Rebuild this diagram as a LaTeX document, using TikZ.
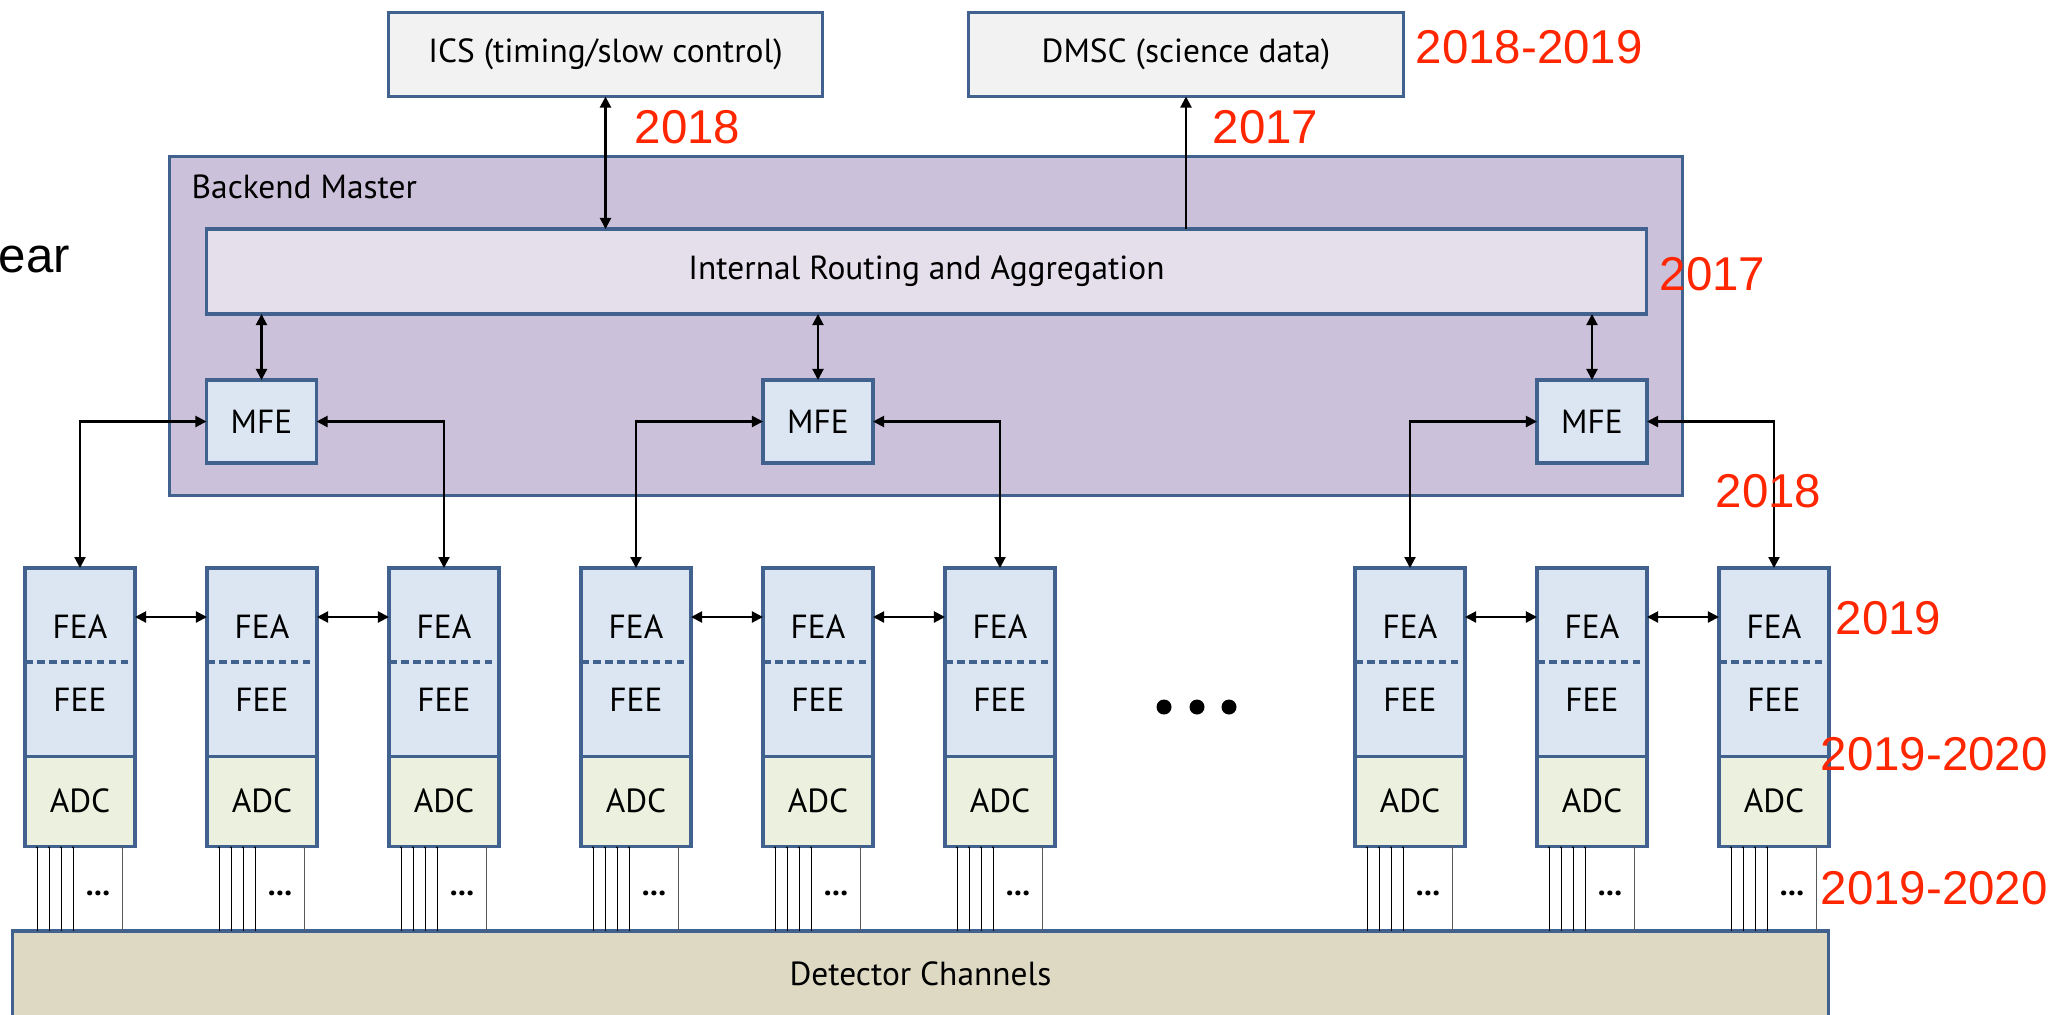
\documentclass[tikz,border=0pt]{standalone}
\usepackage{fontspec}
\setmainfont{PT Sans}
\newfontfamily\yearfont{Liberation Sans}
\usetikzlibrary{arrows.meta}
\definecolor{boxline}{HTML}{41628F}
\definecolor{icsfill}{HTML}{F2F2F2}
\definecolor{masterfill}{HTML}{CCC1DA}
\definecolor{routefill}{HTML}{E5DFEC}
\definecolor{feblue}{HTML}{DCE6F2}
\definecolor{adcfill}{HTML}{EBF1DE}
\definecolor{detfill}{HTML}{DDD9C3}
\definecolor{yearred}{HTML}{FF2600}

\begin{document}
\begin{tikzpicture}[x=0.01cm,y=-0.01cm,
    >={Triangle[length=0.11cm,width=0.11cm]},
    box/.style={draw=boxline,line width=0.9pt,inner sep=0pt,outer sep=0pt,
      font=\fontsize{9.5}{11}\selectfont},
    topbox/.style={box,fill=icsfill,minimum width=4.34cm,minimum height=0.84cm},
    febox/.style={box,fill=feblue,minimum width=1.1cm,minimum height=1.88cm},
    adcbox/.style={box,fill=adcfill,minimum width=1.1cm,minimum height=0.9cm},
    mfebox/.style={box,fill=feblue,minimum width=1.1cm,minimum height=0.83cm},
    lbl/.style={inner sep=0pt,font=\fontsize{9.5}{11}\selectfont},
    yearlbl/.style={anchor=west,inner sep=0pt,text=yearred,
      font=\yearfont\fontsize{13.5}{15}\selectfont},
    link/.style={<->,line width=0.6pt},
    sepline/.style={draw=boxline,line width=0.9pt,dash pattern=on 2.2pt off 1.2pt},
    wire/.style={line width=0.25pt,-{Triangle[length=0.02cm,width=0.02cm]}}]
  \useasboundingbox (0,0) rectangle (2053,1014);

  % upper level
  \node[topbox] (ics) at (605.5,54.5) {ICS (timing/slow control)};
  \node[topbox] (dmsc) at (1186,54.5) {DMSC (science data)};
  \node[box,fill=masterfill,minimum width=15.12cm,minimum height=3.38cm] (master) at (926,326) {};
  \node[lbl,anchor=west] (mastername) at (191,187) {Backend Master};
  \node[box,fill=routefill,minimum width=14.39cm,minimum height=0.85cm] (route) at (926.5,271.5)
    {Internal Routing and Aggregation};
  \node[mfebox] (mfe1) at (261.5,421.5) {MFE};
  \node[mfebox] (mfe2) at (818,421.5) {MFE};
  \node[mfebox] (mfe3) at (1592,421.5) {MFE};
  \node[box,fill=detfill,minimum width=18.15cm,minimum height=0.86cm] (det) at (920.5,974)
    {Detector Channels};

  \draw[link] (ics.south) -- (ics.south |- route.north);
  \draw[->,line width=0.6pt] (dmsc.south |- route.north) -- (dmsc.south);
  \foreach \m in {1,2,3}
    \draw[link] (route.south -| mfe\m) -- (mfe\m.north);

  % front end columns
  \foreach \x [count=\i] in {80,262,444,636,818,1000,1410,1592,1774} {
    \node[febox,anchor=north] (fe\i) at (\x,568) {};
    \node[lbl] (fea\i) at (\x,627) {FEA};
    \node[lbl] (fee\i) at (\x,700) {FEE};
    \coordinate (sep\i) at (\x,662);
    \coordinate (lnk\i) at (\x,617);
    \draw[sepline] (fe\i.west |- sep\i) -- (fe\i.east |- sep\i);
    \node[adcbox,anchor=north] (adc\i) at (fe\i.south) {ADC};
    \foreach \w in {12,24,36,48}
      \draw[wire] ([xshift=\w*0.01cm]adc\i.south west |- det.north) -- ([xshift=\w*0.01cm]adc\i.south west);
    \draw[wire,draw=black!65] ([xshift=0.97cm]adc\i.south west |- det.north) -- ([xshift=0.97cm]adc\i.south west);
    \node[lbl,font=\bfseries\fontsize{9}{10}\selectfont] (dots\i) at ([xshift=0.73cm]adc\i.south west |- 0,893) {...};
  }

  % chains between neighbours
  \foreach \a/\b in {1/2,2/3,4/5,5/6,7/8,8/9}
    \draw[link] (fe\a.east |- lnk\a) -- (fe\b.west |- lnk\b);
  \foreach \m/\l/\r in {1/1/3,2/4/6,3/7/9} {
    \draw[link] (mfe\m.west) -| (fe\l.north);
    \draw[link] (mfe\m.east) -| (fe\r.north);
  }

  % more columns
  \foreach \d in {1164,1197,1229}
    \fill (\d,707) circle (0.075cm);

  % schedule
  \node[yearlbl] (y1) at (1415,47) {2018-2019};
  \node[yearlbl] (y2) at (634,127) {2018};
  \node[yearlbl] (y3) at (1212,127) {2017};
  \node[yearlbl] (y4) at (1659,274) {2017};
  \node[yearlbl] (y5) at (1715,491) {2018};
  \node[yearlbl] (y6) at (1835,618) {2019};
  \node[yearlbl] (y7) at (1820,754) {2019-2020};
  \node[yearlbl] (y8) at (1820,888) {2019-2020};
  \node[anchor=base west,inner sep=0pt,font=\yearfont\fontsize{14}{16}\selectfont] (yr) at (-2,272) {ear};
\end{tikzpicture}
\end{document}
